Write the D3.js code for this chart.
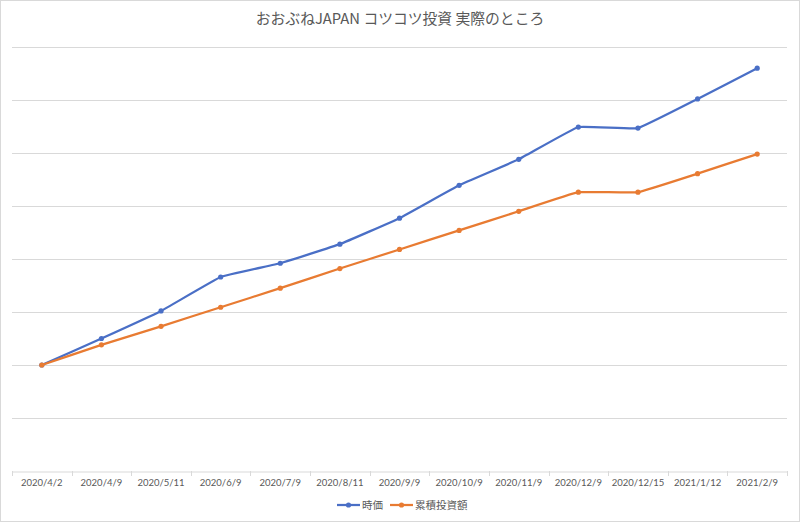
<!DOCTYPE html>
<html><head><meta charset="utf-8">
<script src="https://cdn.jsdelivr.net/npm/d3@7"></script>
<style>body{margin:0;background:#fff}svg{display:block}text{font-family:"Noto Sans CJK JP","Noto Sans",sans-serif}</style>
</head><body><svg id="c" width="800" height="522"></svg>
<script>
const categories = ["2020/4/2","2020/4/9","2020/5/11","2020/6/9","2020/7/9","2020/8/11","2020/9/9","2020/10/9","2020/11/9","2020/12/9","2020/12/15","2021/1/12","2021/2/9"];
const marketValue = [2.00,2.50,3.02,3.66,3.92,4.28,4.77,5.39,5.88,6.49,6.47,7.02,7.60];
const invested = [2.00,2.38,2.73,3.09,3.45,3.82,4.18,4.54,4.90,5.26,5.26,5.61,5.98];
const yTicks = [0,1,2,3,4,5,6,7,8];
const seriesNames = ["時価","累積投資額"];
const title = "おおぶねJAPAN コツコツ投資 実際のところ";

(function(){
const svg = d3.select("#c");
const W = 800, H = 522;
svg.append("rect").attr("x",0.5).attr("y",0.5).attr("width",W-1).attr("height",H-1)
  .attr("fill","#fff").attr("stroke","#d9d9d9");

const pLeft = 12, pRight = 787, pTop = 47, pBottom = 471;
const x = d3.scaleBand().domain(categories).range([pLeft,pRight]);
const y = d3.scaleLinear().domain([0,8]).range([pBottom,pTop]);

svg.append("text").attr("x",400).attr("y",24).attr("text-anchor","middle")
  .attr("font-size",14.8).attr("fill","#595959").text(title);

svg.append("g").selectAll("line").data(yTicks.filter(d=>d>0)).join("line")
  .attr("x1",pLeft).attr("x2",pRight).attr("y1",d=>Math.round(y(d))+0.5).attr("y2",d=>Math.round(y(d))+0.5)
  .attr("stroke","#d9d9d9").attr("stroke-width",1);

const xAxis = d3.axisBottom(x).tickSize(0).tickPadding(8);
const gx = svg.append("g").attr("transform",`translate(0,${pBottom+0.5})`).call(xAxis);
gx.select(".domain").attr("stroke","#d9d9d9");
gx.selectAll("text").attr("font-size",9.5).attr("fill","#595959")
  .style("font-family","Lato, 'Noto Sans', sans-serif");
const bounds = categories.map(c=>x(c)).concat([pRight]);
svg.append("g").selectAll("line").data(bounds).join("line")
  .attr("x1",d=>Math.round(d)+0.5).attr("x2",d=>Math.round(d)+0.5)
  .attr("y1",pBottom).attr("y2",pBottom+5).attr("stroke","#d9d9d9");

const cx = c => x(c) + x.bandwidth()/2;
const line = d3.line().x(d=>cx(d[0])).y(d=>y(d[1])).curve(d3.curveCardinal.tension(0.75));

const series = [
  {name:seriesNames[0], values:marketValue, color:"#4A6FC6"},
  {name:seriesNames[1], values:invested, color:"#E87B32"}
];
series.forEach(s=>{
  const pts = categories.map((c,i)=>[c,s.values[i]]);
  svg.append("path").datum(pts).attr("d",line).attr("fill","none")
    .attr("stroke",s.color).attr("stroke-width",2.25).attr("stroke-linejoin","round");
  svg.append("g").selectAll("circle").data(pts).join("circle")
    .attr("cx",d=>cx(d[0])).attr("cy",d=>y(d[1])).attr("r",2.6).attr("fill",s.color);
});

const lg = svg.append("g").attr("transform","translate(0,505)");
const items = [{s:series[0], x:337},{s:series[1], x:390}];
items.forEach(it=>{
  lg.append("line").attr("x1",it.x).attr("x2",it.x+23).attr("y1",0).attr("y2",0)
    .attr("stroke",it.s.color).attr("stroke-width",2.25);
  lg.append("circle").attr("cx",it.x+11.5).attr("cy",0).attr("r",2.6).attr("fill",it.s.color);
  lg.append("text").attr("x",it.x+25).attr("y",4).attr("font-size",10.5).attr("fill","#595959").text(it.s.name);
});
})();
</script></body></html>
